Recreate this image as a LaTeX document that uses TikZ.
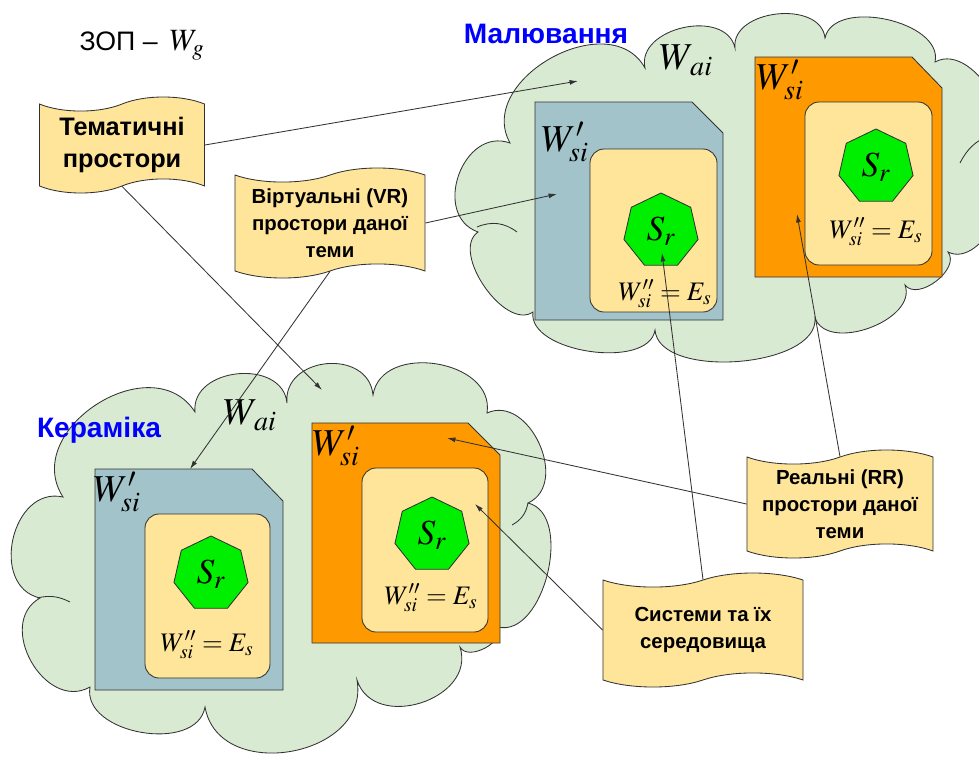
\documentclass[tikz,border=0pt]{standalone}
\usepackage{mathptmx}
\usepackage[no-math]{fontspec}
\setmainfont{Liberation Sans}
\usetikzlibrary{shapes.geometric,shapes.symbols,arrows.meta}

\definecolor{cloudgreen}{RGB}{217,234,211}
\definecolor{slateblue}{RGB}{162,195,201}
\definecolor{boxorange}{RGB}{255,153,0}
\definecolor{paleyellow}{RGB}{255,229,153}
\definecolor{heptgreen}{RGB}{0,238,0}
\definecolor{edge}{RGB}{50,50,50}

\tikzset{
  cloudline/.style={draw=edge,line width=0.6pt},
  lobe/.style={bend left=90,looseness=#1},
  snip/.style={draw=edge,line width=0.6pt,fill=#1},
  inbox/.style={draw=edge,line width=0.6pt,fill=paleyellow,rounded corners=10pt},
  hept/.style={regular polygon,regular polygon sides=7,minimum size=1.9cm,inner sep=0pt,
    draw=edge,line width=0.6pt,fill=heptgreen,font=\fontsize{25}{25}\selectfont},
  tapebox/.style={tape,draw=edge,line width=0.6pt,fill=paleyellow,align=center,
    font=\bfseries\fontsize{14.5}{19}\selectfont,tape bend height=10pt,inner sep=0pt},
  link/.style={draw=edge,line width=0.6pt,-{Latex[length=6pt,width=3.5pt]}},
  mlabel/.style={font=\fontsize{19}{19}\selectfont},
  wlabel/.style={font=\fontsize{27}{27}\selectfont},
  theme/.style={font=\bfseries\fontsize{20}{20}\selectfont,text=blue}
}

\begin{document}
\begin{tikzpicture}[x=0.025cm,y=-0.025cm]
\clip (0,0) rectangle (979,756);

% clouds
\filldraw[cloudline,fill=cloudgreen]
  (478,232) to[lobe=1.35] (510,143) to[lobe=1.2] (645,68) to[lobe=1.15] (735,48)
  to[lobe=1.1] (825,38) to[lobe=0.95] (935,62) to[lobe=1.0] (992,165)
  to[lobe=1.0] (948,252) to[lobe=1.0] (905,285) to[lobe=1.0] (815,318)
  to[lobe=0.8] (655,330) to[lobe=0.85] (533,312) to[lobe=0.9] (478,232) -- cycle;
\draw[cloudline] (477,227) to[bend left=30] (517,232);
\draw[cloudline] (990,135) to[bend right=20] (960,163);
\filldraw[cloudline,fill=cloudgreen]
  (40,598) to[lobe=1.3] (63,497) to[lobe=1.3] (195,412) to[lobe=1.25] (287,403)
  to[lobe=1.4] (373,395) to[lobe=1.2] (487,413) to[lobe=1.2] (528,503)
  to[lobe=0.95] (498,627) to[lobe=1.0] (460,647) to[lobe=1.3] (357,680)
  to[lobe=1.3] (205,707) to[lobe=1.05] (90,687) to[lobe=1.3] (40,598) -- cycle;
\draw[cloudline] (37,598) to[bend left=20] (70,602);
\draw[cloudline] (528,503) to[bend left=25] (512,525);

\node[theme] (malyuv) at (546,34) {Малювання};
\node[theme] (keram) at (99,430) {Кераміка};
\node[font=\fontsize{19}{19}\selectfont] (zop) at (142,45) {ЗОП –\, {\fontsize{22}{22}\selectfont$W_g$}};
\node[wlabel] (waTop) at (686,60) {$W_{\,ai}$};
\node[wlabel] (waBot) at (250,415) {$W_{\,ai}$};

% top cloud boxes
\filldraw[snip=slateblue] (535,102) -- (692,102) -- (723,133) -- (723,320) -- (535,320) -- cycle;
\filldraw[inbox] (590,149) rectangle (717,312);
\node[wlabel] (wsA) at (565,142) {$W'_{si}$};
\node[hept] (srA) at (661,231) {$S_r$};
\node[mlabel] (esA) at (665,294) {$W''_{si}=E_s$};

\filldraw[snip=boxorange] (755,57) -- (912,57) -- (942,88) -- (942,277) -- (755,277) -- cycle;
\filldraw[inbox] (805,102) rectangle (932,265);
\node[wlabel] (wsB) at (780,80) {$W'_{si}$};
\node[hept] (srB) at (876,167) {$S_r$};
\node[mlabel] (esB) at (876,232) {$W''_{si}=E_s$};

% bottom cloud boxes
\filldraw[snip=slateblue] (95,469) -- (252,469) -- (283,501) -- (283,690) -- (95,690) -- cycle;
\filldraw[inbox] (145,514) rectangle (270,678);
\node[wlabel] (wsC) at (117,492) {$W'_{si}$};
\node[hept] (srC) at (211,574) {$S_r$};
\node[mlabel] (esC) at (207,645) {$W''_{si}=E_s$};

\filldraw[snip=boxorange] (312,423) -- (468,423) -- (500,455) -- (500,643) -- (312,643) -- cycle;
\filldraw[inbox] (362,468) rectangle (488,632);
\node[wlabel] (wsD) at (336,446) {$W'_{si}$};
\node[hept] (srD) at (432,535) {$S_r$};
\node[mlabel] (esD) at (431,598) {$W''_{si}=E_s$};

% captions
\node[tapebox,minimum width=4.125cm,minimum height=2.4cm,font=\bfseries\fontsize{18}{23}\selectfont] (tema) at (122,145) {Тематичні\\простори};
\node[tapebox,minimum width=4.75cm,minimum height=2.75cm] (virt) at (330,223) {Віртуальні (VR)\\простори даної\\теми};
\node[tapebox,minimum width=4.65cm,minimum height=2.7cm] (real) at (840,504) {Реальні (RR)\\простори даної\\теми};
\node[tapebox,minimum width=5cm,minimum height=2.85cm] (sys) at (703,630) {Системи та їх\\середовища};

\coordinate (t1) at (578,81);
\coordinate (t2) at (322,390);
\coordinate (t3) at (557,194);
\coordinate (t4) at (190,469);
\coordinate (t5) at (797,214);
\coordinate (t6) at (447,438);
\coordinate (t7) at (662,253);
\coordinate (t8) at (475,504);

\draw[link] (tema.east) -- (t1);
\draw[link] (tema.south) -- (t2);
\draw[link] (virt.east) -- (t3);
\draw[link] (virt.south) -- (t4);
\draw[link] (real.north) -- (t5);
\draw[link] (real.west) -- (t6);
\draw[link] (sys.north) -- (t7);
\draw[link] (sys.west) -- (t8);
\end{tikzpicture}
\end{document}
